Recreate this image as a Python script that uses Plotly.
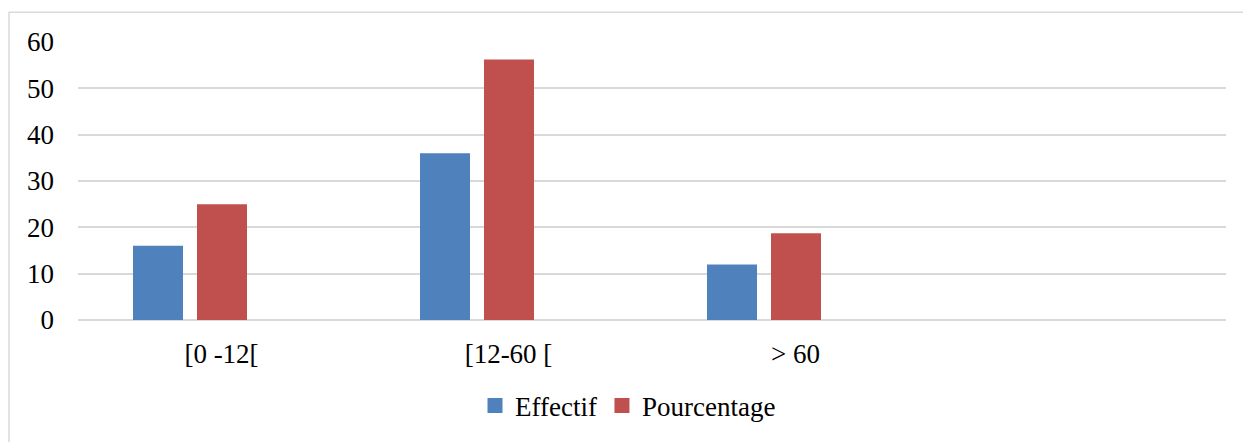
import plotly.graph_objects as go

categories = ["[0 -12[", "[12-60 [", "> 60"]
effectif = [16, 36, 12]
pourcentage = [25, 56.25, 18.75]
y_ticks = [0, 10, 20, 30, 40, 50, 60]

W, H = 1243, 442
L, R, T, B = 78, 17, 42, 119
pw, ph = W - L - R, H - T - B

unit = pw / 4.0  # px per category
bw = 50 / unit

BLUE, RED = "#4F81BD", "#C0504D"

fig = go.Figure()
fig.add_trace(go.Bar(x=categories, y=effectif, name="Effectif",
                     marker=dict(color=BLUE, line=dict(width=0)),
                     width=bw, offset=(133 - (L + unit / 2)) / unit,
                     showlegend=False, legendgroup="e"))
fig.add_trace(go.Bar(x=categories, y=pourcentage, name="Pourcentage",
                     marker=dict(color=RED, line=dict(width=0)),
                     width=bw, offset=(197 - (L + unit / 2)) / unit,
                     showlegend=False, legendgroup="p"))
# legend-only entries with larger square swatches
for nm, col, grp in [("Effectif", BLUE, "e"), ("Pourcentage", RED, "p")]:
    fig.add_trace(go.Scatter(x=[None], y=[None], mode="markers", name=nm,
                             legendgroup=grp,
                             marker=dict(symbol="square", size=15, color=col)))

font = dict(family="Liberation Serif, Times New Roman, serif", size=27, color="#000000")

def px_x(p):
    return (p - L) / pw

def px_y(p):
    return (H - B - p) / ph

fig.update_layout(
    width=W, height=H,
    margin=dict(l=L, r=R, t=T, b=B),
    paper_bgcolor="white", plot_bgcolor="white",
    font=font,
    barmode="overlay",
    showlegend=True,
    legend=dict(orientation="h", x=px_x(628), xanchor="center",
                y=px_y(410), yanchor="middle", font=font,
                itemsizing="trace", traceorder="normal",
                bgcolor="rgba(0,0,0,0)"),
    xaxis=dict(type="category", range=[-0.5, 3.5], showgrid=False,
               showline=False, zeroline=False, ticks="",
               tickfont=font, ticklabelstandoff=15, fixedrange=True),
    yaxis=dict(range=[0, 60], tickvals=y_ticks, showgrid=True,
               gridcolor="#D9D9D9", gridwidth=1.5, zeroline=True,
               zerolinecolor="#D9D9D9", zerolinewidth=1.5,
               showline=False, ticks="", tickfont=font,
               ticklabelstandoff=23, fixedrange=True),
    shapes=[dict(type="rect", xref="paper", yref="paper",
                 x0=px_x(9), x1=px_x(1260), y0=px_y(460), y1=px_y(12),
                 line=dict(color="#D9D9D9", width=1.5), layer="below")],
)

fig.write_html("out.html", config={"displayModeBar": False},
               post_script="document.body.style.margin='0';document.body.style.overflow='hidden';")
